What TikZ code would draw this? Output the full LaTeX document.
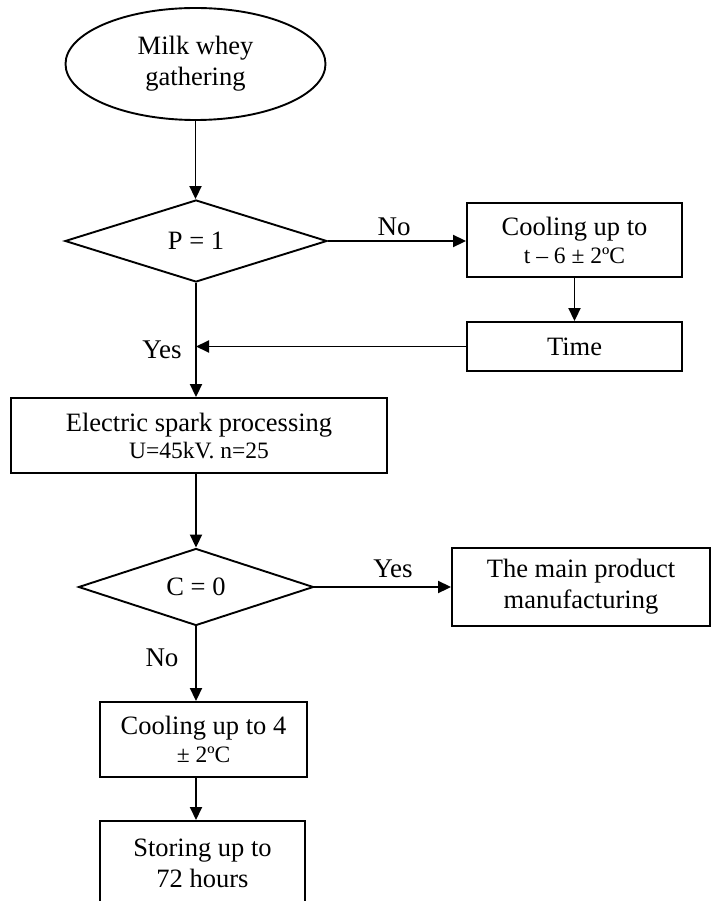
\documentclass[tikz,border=0pt]{standalone}
\usepackage{fontspec}
\setmainfont{Liberation Serif}
\usetikzlibrary{shapes.geometric,arrows.meta}
\begin{document}
\begin{tikzpicture}[x=1pt,y=-1pt,
  every node/.style={font=\fontsize{26.5}{31}\selectfont, align=center, inner sep=0pt},
  proc/.style={draw, line width=1.9pt, rectangle},
  dec/.style={draw, line width=1.9pt, diamond},
  conn/.style={line width=1.9pt, -{Triangle[length=13pt,width=12pt]}},
  lbl/.style={font=\fontsize{27}{31}\selectfont}]
\useasboundingbox (0,0) rectangle (711,901);
\clip (0,0) rectangle (711,901);

\node[draw, ellipse, line width=1.9pt, minimum width=260pt, minimum height=112pt] (start) at (195.5,64) {Milk whey\\gathering};
\node[dec, minimum width=262pt, minimum height=82pt] (p1) at (196,241) {P = 1};
\node[proc, minimum width=215pt, minimum height=74pt] (cool1) at (574.5,240) {Cooling up to\\[-3pt]{\fontsize{23.5}{28}\selectfont t – 6 ± 2ºC}};
\node[proc, minimum width=215pt, minimum height=49pt] (time) at (574.5,346.5) {Time};
\node[proc, minimum width=376pt, minimum height=75pt] (elec) at (199,435.5) {Electric spark processing\\[-4pt]{\fontsize{23.5}{28}\selectfont U=45kV. n=25}};
\node[dec, minimum width=235pt, minimum height=70pt] (c0) at (196,587) {C = 0};
\node[proc, minimum width=258pt, minimum height=78pt] (main) at (581,587) {The main product\\manufacturing};
\node[proc, minimum width=207pt, minimum height=75pt] (cool2) at (203.5,739.5) {Cooling up to 4\\[-3pt]{\fontsize{23.5}{28}\selectfont ± 2ºC}};
\node[proc, minimum width=205pt, minimum height=84pt, anchor=north] (store) at (202.5,820) {Storing up to\\72 hours};

\node[lbl] (lno1) at (394,227) {No};
\node[lbl] (lyes1) at (162,350) {Yes};
\node[lbl] (lyes2) at (393,569) {Yes};
\node[lbl] (lno2) at (162,658) {No};

\draw[conn] (start.south) -- (start.south |- p1.north);
\draw[conn] (p1.east) -- (cool1.west |- p1.east);
\draw[conn] (cool1.south) -- (time.north);
\draw[conn] (time.west) -- (time.west -| p1.south);
\draw[conn] (p1.south) -- (p1.south |- elec.north);
\draw[conn] (p1.south |- elec.south) -- (c0.north);
\draw[conn] (c0.east) -- (main.west);
\draw[conn] (c0.south) -- (c0.south |- cool2.north);
\draw[conn] (c0.south |- cool2.south) -- (c0.south |- store.north);
\end{tikzpicture}
\end{document}
